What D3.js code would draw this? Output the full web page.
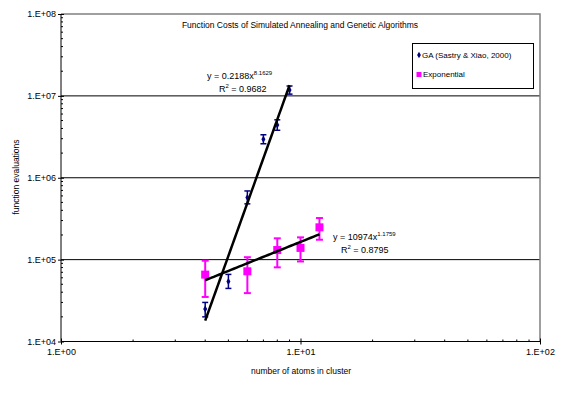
<!DOCTYPE html>
<html><head><meta charset="utf-8">
<script src="https://cdn.jsdelivr.net/npm/d3@7"></script>
<style>body{margin:0;background:#fff}svg{display:block}text{font-family:"Liberation Sans",Arial,sans-serif;fill:#000}</style>
</head><body><svg id="c" width="575" height="393"></svg>
<script>
const gaX = [4, 5, 6, 7, 8, 9];
const gaY = [25000, 54000, 575000, 2950000, 4400000, 11800000];
const gaLo = [20000, 44500, 480000, 2600000, 3800000, 10500000];
const gaHi = [30000, 66000, 690000, 3350000, 5100000, 13200000];
const exX = [4, 6, 8, 10, 12];
const exY = [65600, 72000, 131000, 139000, 248000];
const exLo = [35000, 39000, 80500, 95000, 175000];
const exHi = [97000, 107000, 182000, 187000, 322000];
const gaFit = {a: 0.2188, b: 8.1629, x0: 4, x1: 9, eq: "y = 0.2188x", exp: "8.1629", r2: "0.9682"};
const exFit = {a: 10974, b: 1.1759, x0: 4, x1: 12, eq: "y = 10974x", exp: "1.1759", r2: "0.8795"};
const xTicks = [1, 10, 100];
const yTicks = [1e4, 1e5, 1e6, 1e7, 1e8];
const legendLabels = ["GA (Sastry & Xiao, 2000)", "Exponential"];
const title = "Function Costs of Simulated Annealing and Genetic Algorithms";

const svg = d3.select("#c");
const L = 61, R = 540, T = 14, B = 341.5;
const x = d3.scaleLog().domain([1, 100]).range([L, R]);
const y = d3.scaleLog().domain([1e4, 1e8]).range([B, T]);
const fmt = v => "1.E+" + String(Math.round(Math.log10(v))).padStart(2, "0");

// gridlines
svg.append("g").selectAll("line").data(yTicks.slice(1, 4)).join("line")
  .attr("x1", L).attr("x2", R).attr("y1", d => y(d)).attr("y2", d => y(d))
  .attr("stroke", "#000").attr("stroke-width", 1);
// frame top/right gray
svg.append("path").attr("d", `M${L},${T}H${R}V${B}`).attr("fill", "none").attr("stroke", "#808080").attr("stroke-width", 1.5);

// axes
const yMinor = [];
for (let e = 4; e < 8; e++) for (let m = 2; m <= 9; m++) yMinor.push(m * Math.pow(10, e));
const xMinor = [];
for (let e = 0; e < 2; e++) for (let m = 2; m <= 9; m++) xMinor.push(m * Math.pow(10, e));

const yAxis = svg.append("g").attr("transform", `translate(${L},0)`);
yAxis.call(d3.axisLeft(y).tickValues(yTicks).tickFormat(fmt).tickSize(3).tickPadding(2));
yAxis.select(".domain").remove();
yAxis.selectAll(".tick line").attr("x2", 3).attr("x1", -3).attr("stroke", "#000");
yAxis.selectAll("text").attr("font-size", 9).attr("x", -5);
yAxis.append("line").attr("y1", T).attr("y2", B).attr("stroke", "#000");
yAxis.selectAll(".mn").data(yMinor).join("line").attr("class", "mn")
  .attr("x1", 0).attr("x2", 2).attr("y1", d => y(d)).attr("y2", d => y(d)).attr("stroke", "#000");

const xAxis = svg.append("g").attr("transform", `translate(0,${B})`);
xAxis.call(d3.axisBottom(x).tickValues(xTicks).tickFormat(fmt).tickSize(3).tickPadding(4));
xAxis.select(".domain").remove();
xAxis.selectAll(".tick line").attr("y1", -3).attr("y2", 3).attr("stroke", "#000");
xAxis.selectAll("text").attr("font-size", 9);
xAxis.append("line").attr("x1", L).attr("x2", R).attr("stroke", "#000");
xAxis.selectAll(".mn").data(xMinor).join("line").attr("class", "mn")
  .attr("x1", d => x(d)).attr("x2", d => x(d)).attr("y1", 0).attr("y2", -2).attr("stroke", "#000");

// titles
svg.append("text").attr("x", 300).attr("y", 28).attr("text-anchor", "middle").attr("font-size", 8.5).text(title);
svg.append("text").attr("x", 301).attr("y", 374).attr("text-anchor", "middle").attr("font-size", 8.5).text("number of atoms in cluster");
svg.append("text").attr("transform", "translate(19,177) rotate(-90)").attr("text-anchor", "middle").attr("font-size", 8.5).text("function evaluations");

// error bars
function errBars(xs, lo, hi, color, w, cap) {
  const g = svg.append("g").attr("stroke", color).attr("stroke-width", w);
  xs.forEach((d, i) => {
    g.append("line").attr("x1", x(d)).attr("x2", x(d)).attr("y1", y(lo[i])).attr("y2", y(hi[i]));
    g.append("line").attr("x1", x(d) - cap).attr("x2", x(d) + cap).attr("y1", y(lo[i])).attr("y2", y(lo[i]));
    g.append("line").attr("x1", x(d) - cap).attr("x2", x(d) + cap).attr("y1", y(hi[i])).attr("y2", y(hi[i]));
  });
}
errBars(gaX, gaLo, gaHi, "#000080", 1.5, 3);
errBars(exX, exLo, exHi, "#ff00ff", 2, 3.5);

svg.append("g").selectAll("path").data(gaX).join("path")
  .attr("d", d3.symbol(d3.symbolDiamond, 14)).attr("fill", "#000080")
  .attr("transform", (d, i) => `translate(${x(d)},${y(gaY[i])})`);
svg.append("g").selectAll("rect").data(exX).join("rect")
  .attr("x", d => x(d) - 4).attr("y", (d, i) => y(exY[i]) - 4).attr("width", 8).attr("height", 8).attr("fill", "#ff00ff");

// trendlines
[gaFit, exFit].forEach(f => {
  const pts = d3.range(0, 41).map(k => { const xv = f.x0 * Math.pow(f.x1 / f.x0, k / 40); return [x(xv), y(f.a * Math.pow(xv, f.b))]; });
  svg.append("path").attr("d", d3.line()(pts)).attr("fill", "none").attr("stroke", "#000").attr("stroke-width", 2.5);
});

// equation labels
function eqLabel(f, ex, ey, rx, ry) {
  const t = svg.append("text").attr("x", ex).attr("y", ey).attr("font-size", 9);
  t.append("tspan").text(f.eq);
  t.append("tspan").attr("dy", -4).attr("font-size", 6).text(f.exp);
  const r = svg.append("text").attr("x", rx).attr("y", ry).attr("font-size", 9);
  r.append("tspan").text("R");
  r.append("tspan").attr("dy", -4).attr("font-size", 6).text("2");
  r.append("tspan").attr("dy", 4).text(" = " + f.r2);
}
eqLabel(gaFit, 207, 79, 219, 92);
eqLabel(exFit, 333, 240, 341, 253);

// legend
const lg = svg.append("g");
lg.append("rect").attr("x", 412.5).attr("y", 43.5).attr("width", 121).attr("height", 45).attr("fill", "#fff").attr("stroke", "#000");
lg.append("path").attr("d", d3.symbol(d3.symbolDiamond, 12)).attr("fill", "#000080").attr("transform", "translate(419,55)");
lg.append("text").attr("x", 422).attr("y", 58).attr("font-size", 8).text(legendLabels[0]);
lg.append("rect").attr("x", 416.5).attr("y", 72).attr("width", 5).attr("height", 5).attr("fill", "#ff00ff");
lg.append("text").attr("x", 423).attr("y", 77).attr("font-size", 8).text(legendLabels[1]);
</script></body></html>
